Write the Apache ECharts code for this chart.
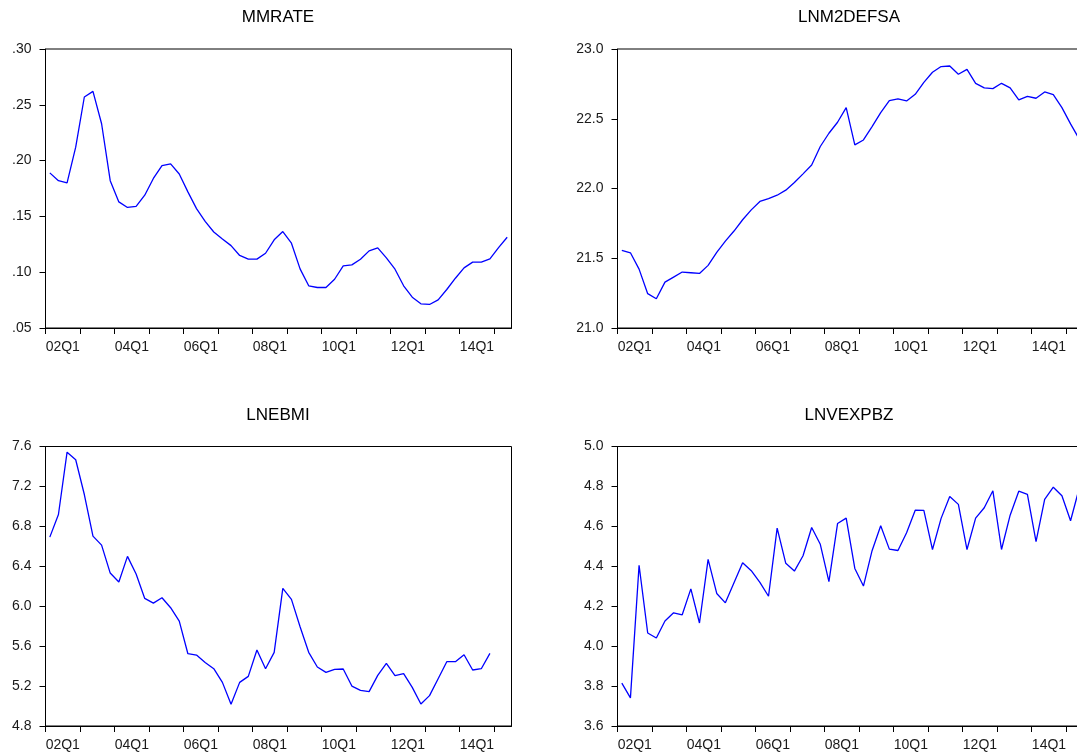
<!DOCTYPE html>
<html>
<head>
<meta charset="utf-8">
<script src="https://cdn.jsdelivr.net/npm/echarts@6/dist/echarts.min.js"></script>
<style>
  html, body { margin: 0; padding: 0; background: #fff; }
  #chart { width: 1077px; height: 756px; }
</style>
</head>
<body>
<div id="chart"></div>
<script>
// Quarterly observations 2002Q1 .. 2015Q2 (54 quarters)
const titles = ['MMRATE', 'LNM2DEFSA', 'LNEBMI', 'LNVEXPBZ'];
const xTickLabels = ['02Q1', '04Q1', '06Q1', '08Q1', '10Q1', '12Q1', '14Q1'];

const mmrate = [0.189, 0.182, 0.180, 0.212, 0.257, 0.262, 0.233, 0.182, 0.163, 0.158,
  0.159, 0.169, 0.184, 0.1955, 0.197, 0.188, 0.172, 0.157, 0.1455, 0.136,
  0.1297, 0.1238, 0.115, 0.1117, 0.1117, 0.117, 0.129, 0.1364, 0.126, 0.103,
  0.0878, 0.0863, 0.0863, 0.0937, 0.1057, 0.1066, 0.1116, 0.1191, 0.1218, 0.1128,
  0.1027, 0.0878, 0.0776, 0.0717, 0.0711, 0.0752, 0.0845, 0.0946, 0.1039, 0.109,
  0.109, 0.112, 0.122, 0.1313];

const lnm2defsa = [21.556, 21.539, 21.422, 21.246, 21.210, 21.329, 21.365, 21.401, 21.396, 21.391,
  21.449, 21.542, 21.623, 21.695, 21.776, 21.847, 21.907, 21.928, 21.952, 21.988,
  22.043, 22.105, 22.169, 22.301, 22.396, 22.475, 22.580, 22.313, 22.348, 22.444,
  22.544, 22.630, 22.642, 22.628, 22.675, 22.761, 22.833, 22.874, 22.878, 22.819,
  22.854, 22.754, 22.721, 22.716, 22.754, 22.721, 22.635, 22.661, 22.647, 22.692,
  22.673, 22.580, 22.463, 22.355];

const lnebmi = [6.692, 6.919, 7.543, 7.467, 7.119, 6.702, 6.612, 6.332, 6.242, 6.499,
  6.322, 6.078, 6.031, 6.085, 5.985, 5.851, 5.524, 5.511, 5.437, 5.374,
  5.237, 5.017, 5.237, 5.297, 5.561, 5.374, 5.538, 6.178, 6.068, 5.794,
  5.538, 5.391, 5.337, 5.367, 5.371, 5.200, 5.157, 5.144, 5.307, 5.427,
  5.304, 5.324, 5.187, 5.020, 5.104, 5.274, 5.444, 5.444, 5.514, 5.361,
  5.374, 5.528, null, null];

const lnvexpbz = [3.815, 3.741, 4.405, 4.066, 4.041, 4.126, 4.167, 4.157, 4.287, 4.116,
  4.435, 4.264, 4.217, 4.317, 4.418, 4.378, 4.319, 4.250, 4.591, 4.415,
  4.376, 4.453, 4.594, 4.510, 4.323, 4.614, 4.641, 4.389, 4.301, 4.478,
  4.603, 4.486, 4.479, 4.568, 4.681, 4.680, 4.484, 4.640, 4.750, 4.710,
  4.484, 4.641, 4.693, 4.778, 4.484, 4.656, 4.776, 4.760, 4.524, 4.735,
  4.796, 4.753, 4.628, 4.790];

const seriesList = [mmrate, lnm2defsa, lnebmi, lnvexpbz];
const yRanges = [[0.05, 0.30, 0.05], [21.0, 23.0, 0.5], [4.8, 7.6, 0.4], [3.6, 5.0, 0.2]];
const yFormats = [
  v => v.toFixed(2).replace(/^0/, ''),
  v => v.toFixed(1),
  v => v.toFixed(1),
  v => v.toFixed(1)
];

const nObs = 54;
const yearTicks = [];
for (let q = 0; q < nObs; q += 4) yearTicks.push(q);
const labelPos = xTickLabels.map((_, k) => 2 + 8 * k);

const FONT = '"Liberation Sans", Arial, sans-serif';
const grids = [
  { left: 45.5, top: 49, width: 466, height: 279 },
  { left: 617.5, top: 49, width: 466, height: 279 },
  { left: 45.5, top: 446.5, width: 466, height: 279.5 },
  { left: 617.5, top: 446.5, width: 466, height: 279.5 }
];
const titleCenters = [[278, 9], [849, 9], [278, 407], [849, 407]];

const option = {
  animation: false,
  backgroundColor: '#fff',
  title: titles.map((t, i) => ({
    text: t,
    left: titleCenters[i][0],
    top: titleCenters[i][1],
    textAlign: 'center',
    padding: 0,
    textStyle: { fontFamily: FONT, fontSize: 17, fontWeight: 'normal', color: '#000' }
  })),
  grid: grids.map(g => Object.assign({
    show: true, borderColor: '#000', borderWidth: 1, backgroundColor: 'transparent',
    containLabel: false, outerBoundsMode: 'none'
  }, g)),
  xAxis: grids.map((g, i) => ({
    type: 'value',
    gridIndex: i,
    min: 0,
    max: nObs,
    axisLine: { show: true, lineStyle: { color: '#000', width: 1 } },
    axisTick: { show: true, length: 6, customValues: yearTicks, lineStyle: { color: '#000' } },
    axisLabel: {
      show: true,
      customValues: labelPos,
      formatter: v => xTickLabels[Math.round((v - 2) / 8)] || '',
      fontFamily: FONT, fontSize: 14, color: '#1a1a1a', margin: 12
    },
    splitLine: { show: false }
  })),
  yAxis: grids.map((g, i) => ({
    type: 'value',
    gridIndex: i,
    min: yRanges[i][0],
    max: yRanges[i][1],
    interval: yRanges[i][2],
    axisLine: { show: true, lineStyle: { color: '#000', width: 1 } },
    axisTick: { show: true, length: 6, lineStyle: { color: '#000' } },
    axisLabel: { formatter: yFormats[i], fontFamily: FONT, fontSize: 14, color: '#1a1a1a', margin: 14 },
    splitLine: { show: false }
  })),
  series: seriesList.map((vals, i) => ({
    type: 'line',
    xAxisIndex: i,
    yAxisIndex: i,
    data: vals.map((v, k) => [k + 0.5, v]),
    showSymbol: false,
    symbol: 'none',
    connectNulls: false,
    lineStyle: { color: '#0000ff', width: 1.3 },
    silent: true
  }))
};

const chart = echarts.init(document.getElementById('chart'), null, { renderer: 'canvas' });
chart.setOption(option);
</script>
</body>
</html>
